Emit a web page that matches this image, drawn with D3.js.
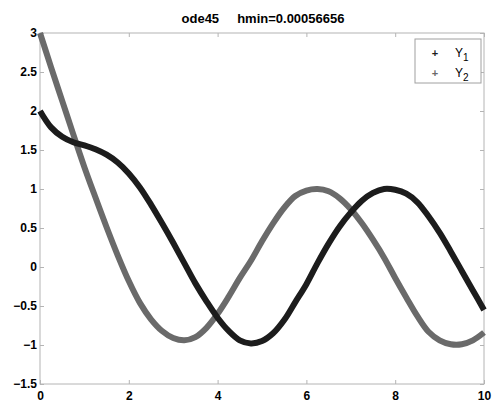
<!DOCTYPE html>
<html>
<head>
<meta charset="utf-8">
<script src="https://cdn.jsdelivr.net/npm/d3@7"></script>
<style>
  body { margin: 0; background: #fff; }
  svg { display: block; font-family: Arial, "Liberation Sans", sans-serif; }
</style>
</head>
<body>
<svg width="496" height="403"></svg>
<script>
// values
var tValues = [0, 0.25, 0.5, 0.75, 1, 1.25, 1.5, 1.75, 2, 2.25, 2.5, 2.75, 3, 3.25, 3.5, 3.75,
  4, 4.25, 4.5, 4.75, 5, 5.25, 5.5, 5.75, 6, 6.25, 6.5, 6.75, 7, 7.25, 7.5, 7.75,
  8, 8.25, 8.5, 8.75, 9, 9.25, 9.5, 9.75, 10];
var y1Values = [2.0, 1.79, 1.67, 1.60, 1.56, 1.51, 1.44, 1.34, 1.20, 1.02, 0.80, 0.56, 0.31, 0.05, -0.21, -0.44,
  -0.65, -0.82, -0.94, -0.98, -0.95, -0.85, -0.68, -0.45, -0.22, 0.05, 0.30, 0.52, 0.70, 0.85, 0.95, 1.00,
  0.99, 0.94, 0.83, 0.65, 0.44, 0.20, -0.05, -0.30, -0.55];
var y2Values = [3.0, 2.56, 2.13, 1.70, 1.28, 0.89, 0.51, 0.15, -0.18, -0.46, -0.67, -0.82, -0.91, -0.94, -0.90, -0.78,
  -0.60, -0.38, -0.14, 0.08, 0.33, 0.56, 0.76, 0.91, 0.98, 1.00, 0.97, 0.88, 0.74, 0.56, 0.35, 0.12,
  -0.14, -0.39, -0.63, -0.83, -0.94, -0.99, -0.99, -0.94, -0.84];
var seriesNames = ["1", "2"];
var seriesColors = ["#1c1c1c", "#6a6a6a"];
var xTicks = [0, 2, 4, 6, 8, 10];
var yTicks = [-1.5, -1, -0.5, 0, 0.5, 1, 1.5, 2, 2.5, 3];
var titleText = "ode45     hmin=0.00056656";

var svg = d3.select("svg"),
    margin = {top: 33, right: 12, bottom: 19, left: 40},
    width = +svg.attr("width") - margin.left - margin.right,
    height = +svg.attr("height") - margin.top - margin.bottom;

var x = d3.scaleLinear().domain([0, 10]).range([0, width]),
    y = d3.scaleLinear().domain([-1.5, 3]).range([height, 0]);

var g = svg.append("g")
    .attr("transform", "translate(" + margin.left + "," + margin.top + ")");

// box with mirrored inward ticks, matlab style
g.append("rect")
    .attr("width", width).attr("height", height)
    .attr("fill", "none").attr("stroke", "#b4b4b4").attr("stroke-width", 1);

var axisColor = "#b4b4b4";
function styleAxis(sel) {
  sel.select(".domain").remove();
  sel.selectAll(".tick line").attr("stroke", axisColor);
}
g.append("g").attr("transform", "translate(0," + height + ")")
    .call(d3.axisBottom(x).tickValues(xTicks).tickSize(-4).tickPadding(7).tickFormat(d3.format("d")))
    .call(styleAxis);
g.append("g")
    .call(d3.axisTop(x).tickValues(xTicks).tickSize(-4).tickFormat(""))
    .call(styleAxis);
g.append("g")
    .call(d3.axisLeft(y).tickValues(yTicks).tickSize(-4).tickPadding(3).tickFormat(d3.format("")))
    .call(styleAxis);
g.append("g").attr("transform", "translate(" + width + ",0)")
    .call(d3.axisRight(y).tickValues(yTicks).tickSize(-4).tickFormat(""))
    .call(styleAxis);

g.selectAll(".tick text")
    .attr("fill", "#000").attr("font-size", 12).attr("font-weight", "bold")
    .attr("font-family", "Arial, 'Liberation Sans', sans-serif");

// curves
var series = [y1Values, y2Values].map(function(vals, i) {
  return {name: seriesNames[i], color: seriesColors[i],
          values: vals.map(function(v, j) { return {t: tValues[j], v: v}; })};
});

var line = d3.line()
    .x(function(d) { return x(d.t); })
    .y(function(d) { return y(d.v); })
    .curve(d3.curveCatmullRom.alpha(0.5));

g.selectAll(".curve")
  .data(series.slice().reverse())
  .enter().append("path")
    .attr("class", "curve")
    .attr("d", function(d) { return line(d.values); })
    .attr("fill", "none")
    .attr("stroke", function(d) { return d.color; })
    .attr("stroke-width", 6)
    .attr("stroke-linejoin", "round");

// title
svg.append("text")
    .attr("x", margin.left + width / 2 + 1)
    .attr("y", 23)
    .attr("text-anchor", "middle")
    .attr("font-size", 13).attr("font-weight", "bold")
    .style("white-space", "pre")
    .text(titleText);

// legend
var legend = svg.append("g").attr("transform", "translate(415,39)");
legend.append("rect")
    .attr("width", 66).attr("height", 44)
    .attr("fill", "#fff").attr("stroke", "#a0a0a0");
var item = legend.selectAll(".item")
  .data(series)
  .enter().append("g")
    .attr("transform", function(d, i) { return "translate(0," + (14 + i * 20) + ")"; });
item.append("text")
    .attr("x", 20).attr("y", 4)
    .attr("text-anchor", "middle")
    .attr("font-size", 11).attr("font-weight", "bold")
    .attr("fill", function(d) { return d.color; })
    .text("+");
var lab = item.append("text")
    .attr("x", 40).attr("y", 4)
    .attr("font-size", 12).attr("fill", "#000");
lab.append("tspan").text("Y");
lab.append("tspan").attr("dy", 4).attr("font-size", 10).text(function(d) { return d.name; });
</script>
</body>
</html>
